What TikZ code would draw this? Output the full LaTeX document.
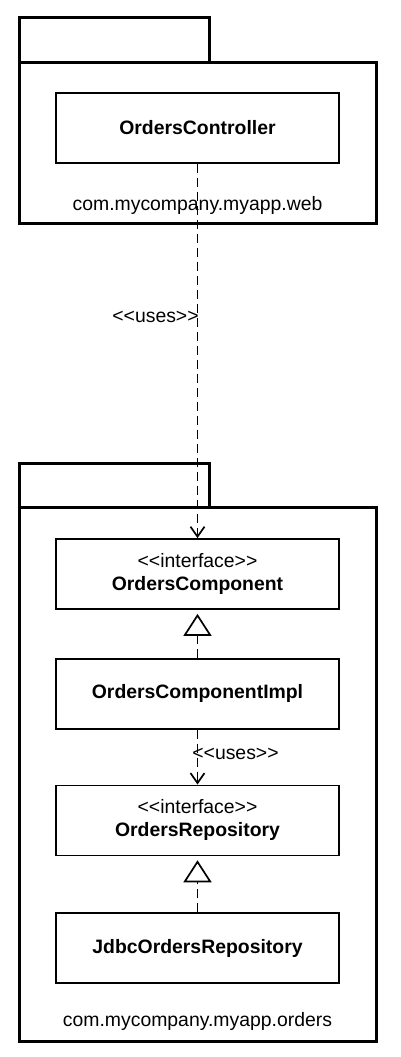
\documentclass[tikz,border=0pt]{standalone}
\usepackage{fontspec}
\setmainfont{Liberation Sans}
\usepackage{tikz}
\usetikzlibrary{arrows.meta,positioning}
\newcommand{\umlsize}{\fontsize{19.4}{23}\selectfont}
\newcommand{\stereotype}[1]{<{}<#1>{}>}
\tikzset{
  pkg/.style={rectangle,draw,line width=3pt,inner sep=0pt,minimum width=357pt},
  pkgtab/.style={rectangle,draw,line width=3pt,inner sep=0pt,minimum width=190pt,minimum height=44pt},
  pkgname/.style={anchor=base,inner sep=0pt,font=\umlsize},
  cls/.style={rectangle,draw,line width=1.7pt,minimum width=283pt,minimum height=70pt,inner sep=0pt,align=center,font=\umlsize\bfseries},
  stereo/.style={inner sep=0pt,font=\umlsize},
  uses/.style={draw,line width=1.7pt,dash pattern=on 9pt off 5pt,-{Straight Barb[length=10pt,width=14pt]}},
  realizes/.style={draw,line width=1.7pt,dash pattern=on 9pt off 5pt,shorten >=4pt,-{Triangle[open,length=22pt,width=28pt,fill=white]}}
}

\begin{document}
\begin{tikzpicture}[x=1pt,y=-1pt]
  \useasboundingbox (0,0) rectangle (401,1057);
  % Package web
  \node[pkgtab,minimum height=45pt] (webtab) at (114,40.5) {};
  \node[pkg,minimum height=160pt] (webpkg) at (197.5,143) {};
  \node[pkgname] (webname) at (197.5,210) {com.mycompany.myapp.web};
  \node[cls] (ctrl) at (197.5,128) {OrdersController};

  % Package orders
  \node[pkgtab] (ordtab) at (114,485) {};
  \node[pkg,minimum height=534pt] (ordpkg) at (197.5,774) {};
  \node[pkgname] (ordname) at (197.5,1026) {com.mycompany.myapp.orders};
  \node[cls] (comp) at (197.5,574) {{\mdseries\stereotype{interface}}\\OrdersComponent};
  \node[cls,below=48pt of comp] (impl) {OrdersComponentImpl};
  \node[cls,below=55pt of impl] (repo) {{\mdseries\stereotype{interface}}\\OrdersRepository};
  \node[cls,below=56pt of repo] (jdbc) {JdbcOrdersRepository};

  % Dependencies
  \draw[uses] (ctrl) -- node[stereo,anchor=east,pos=0.41,xshift=2pt] {\stereotype{uses}} (comp);
  \draw[realizes] (impl) -- (comp);
  \draw[uses] (impl) -- node[stereo,anchor=west,pos=0.44,xshift=-6pt] {\stereotype{uses}} (repo);
  \draw[realizes] (jdbc) -- (repo);
\end{tikzpicture}
\end{document}
